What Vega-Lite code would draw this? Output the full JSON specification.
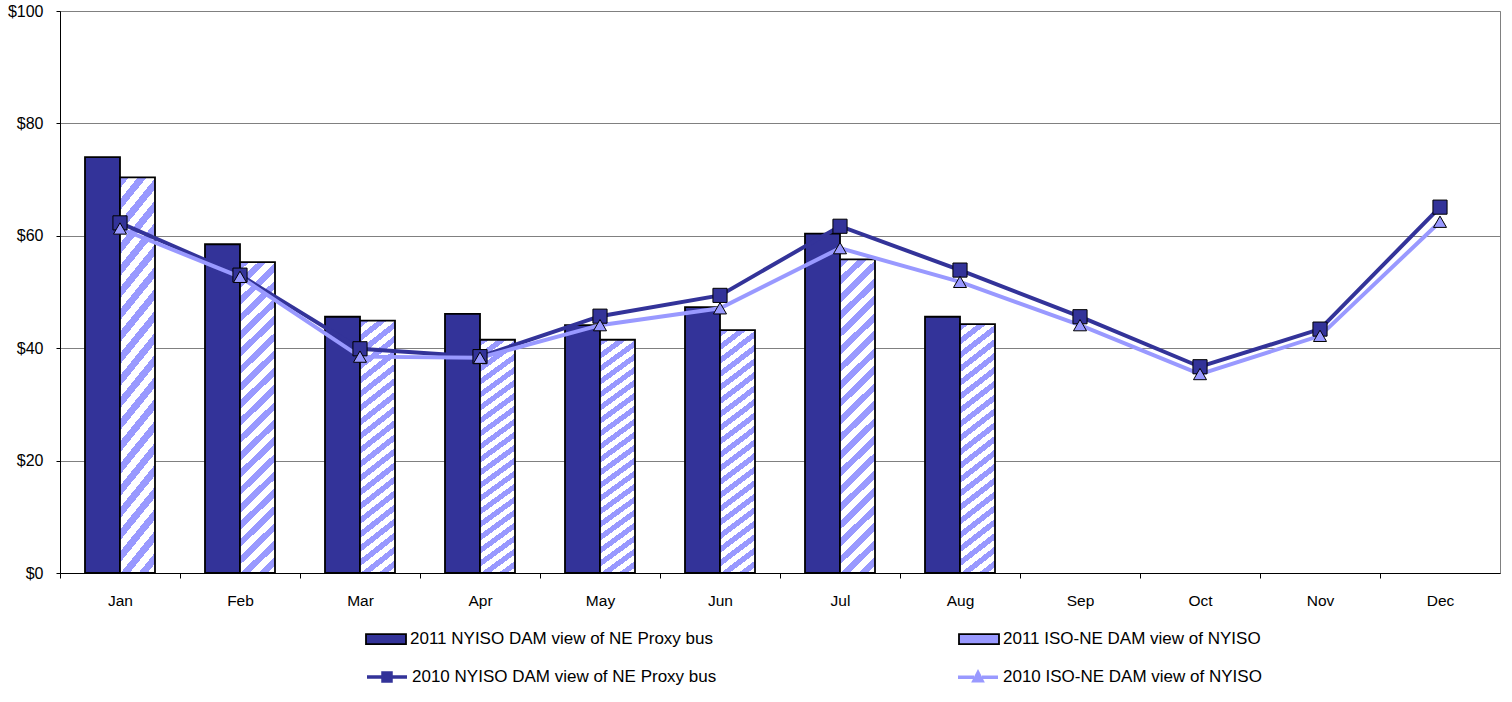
{
  "$schema": "https://vega.github.io/schema/vega-lite/v6.json",
  "width": 1440,
  "height": 562,
  "autosize": {"type": "none"},
  "padding": {"left": 60, "top": 11, "right": 12, "bottom": 129},
  "background": "white",
  "config": {
    "font": "Liberation Sans",
    "view": {"stroke": "#808080", "strokeWidth": 1}
  },
  "datasets": {
    "bars": [
      {"month": "Jan", "series": "2011 NYISO DAM view of NE Proxy bus", "value": 74.0},
      {"month": "Jan", "series": "2011 ISO-NE DAM view of NYISO", "value": 70.4},
      {"month": "Feb", "series": "2011 NYISO DAM view of NE Proxy bus", "value": 58.5},
      {"month": "Feb", "series": "2011 ISO-NE DAM view of NYISO", "value": 55.3},
      {"month": "Mar", "series": "2011 NYISO DAM view of NE Proxy bus", "value": 45.6},
      {"month": "Mar", "series": "2011 ISO-NE DAM view of NYISO", "value": 44.9},
      {"month": "Apr", "series": "2011 NYISO DAM view of NE Proxy bus", "value": 46.1},
      {"month": "Apr", "series": "2011 ISO-NE DAM view of NYISO", "value": 41.5},
      {"month": "May", "series": "2011 NYISO DAM view of NE Proxy bus", "value": 44.1},
      {"month": "May", "series": "2011 ISO-NE DAM view of NYISO", "value": 41.5},
      {"month": "Jun", "series": "2011 NYISO DAM view of NE Proxy bus", "value": 47.3},
      {"month": "Jun", "series": "2011 ISO-NE DAM view of NYISO", "value": 43.2},
      {"month": "Jul", "series": "2011 NYISO DAM view of NE Proxy bus", "value": 60.4},
      {"month": "Jul", "series": "2011 ISO-NE DAM view of NYISO", "value": 55.8},
      {"month": "Aug", "series": "2011 NYISO DAM view of NE Proxy bus", "value": 45.6},
      {"month": "Aug", "series": "2011 ISO-NE DAM view of NYISO", "value": 44.3}
    ],
    "lines": [
      {"month": "Jan", "series": "2010 NYISO DAM view of NE Proxy bus", "value": 62.3},
      {"month": "Feb", "series": "2010 NYISO DAM view of NE Proxy bus", "value": 53.0},
      {"month": "Mar", "series": "2010 NYISO DAM view of NE Proxy bus", "value": 39.9},
      {"month": "Apr", "series": "2010 NYISO DAM view of NE Proxy bus", "value": 38.5},
      {"month": "May", "series": "2010 NYISO DAM view of NE Proxy bus", "value": 45.7},
      {"month": "Jun", "series": "2010 NYISO DAM view of NE Proxy bus", "value": 49.4},
      {"month": "Jul", "series": "2010 NYISO DAM view of NE Proxy bus", "value": 61.7},
      {"month": "Aug", "series": "2010 NYISO DAM view of NE Proxy bus", "value": 53.9},
      {"month": "Sep", "series": "2010 NYISO DAM view of NE Proxy bus", "value": 45.6},
      {"month": "Oct", "series": "2010 NYISO DAM view of NE Proxy bus", "value": 36.7},
      {"month": "Nov", "series": "2010 NYISO DAM view of NE Proxy bus", "value": 43.4},
      {"month": "Dec", "series": "2010 NYISO DAM view of NE Proxy bus", "value": 65.1},
      {"month": "Jan", "series": "2010 ISO-NE DAM view of NYISO", "value": 61.3},
      {"month": "Feb", "series": "2010 ISO-NE DAM view of NYISO", "value": 52.7},
      {"month": "Mar", "series": "2010 ISO-NE DAM view of NYISO", "value": 38.5},
      {"month": "Apr", "series": "2010 ISO-NE DAM view of NYISO", "value": 38.3},
      {"month": "May", "series": "2010 ISO-NE DAM view of NYISO", "value": 44.1},
      {"month": "Jun", "series": "2010 ISO-NE DAM view of NYISO", "value": 47.1},
      {"month": "Jul", "series": "2010 ISO-NE DAM view of NYISO", "value": 57.8},
      {"month": "Aug", "series": "2010 ISO-NE DAM view of NYISO", "value": 51.8},
      {"month": "Sep", "series": "2010 ISO-NE DAM view of NYISO", "value": 44.1},
      {"month": "Oct", "series": "2010 ISO-NE DAM view of NYISO", "value": 35.4},
      {"month": "Nov", "series": "2010 ISO-NE DAM view of NYISO", "value": 42.2},
      {"month": "Dec", "series": "2010 ISO-NE DAM view of NYISO", "value": 62.5}
    ]
  },
  "layer": [
    {
      "data": {"name": "bars"},
      "mark": {"type": "bar", "stroke": "black", "strokeWidth": 1.8},
      "encoding": {
        "x": {
          "field": "month", "type": "ordinal",
          "scale": {"domain": ["Jan","Feb","Mar","Apr","May","Jun","Jul","Aug","Sep","Oct","Nov","Dec"], "paddingInner": 0.4167, "paddingOuter": 0.2083},
          "axis": {"title": null, "labelAngle": 0, "bandPosition": 0.5, "tickOffset": -60, "labelOffset": 60, "domainColor": "black", "tickColor": "black", "tickSize": 5, "labelFontSize": 15.5, "labelColor": "black", "labelPadding": 15, "grid": false}
        },
        "xOffset": {"field": "series", "type": "nominal", "scale": {"domain": ["2011 NYISO DAM view of NE Proxy bus", "2011 ISO-NE DAM view of NYISO"], "paddingInner": 0, "paddingOuter": 0}},
        "y": {
          "field": "value", "type": "quantitative",
          "scale": {"domain": [0, 100], "nice": false},
          "axis": {"title": null, "values": [0,20,40,60,80,100], "labelExpr": "'$' + datum.value", "grid": true, "gridColor": "#808080", "gridWidth": 1, "domainColor": "black", "tickColor": "black", "tickSize": 4, "labelFontSize": 16, "labelColor": "black", "labelPadding": 13}
        },
        "fill": {
          "condition": {
            "test": "datum.series === '2011 ISO-NE DAM view of NYISO'",
            "value": {"gradient": "linear", "x1": 0, "y1": 0, "x2": 0.12, "y2": 1.1, "stops": [
              {"offset": 0, "color": "#9999ff"}, {"offset": 0.025, "color": "#9999ff"},
              {"offset": 0.025, "color": "#ffffff"}, {"offset": 0.05, "color": "#ffffff"},
              {"offset": 0.05, "color": "#9999ff"}, {"offset": 0.075, "color": "#9999ff"},
              {"offset": 0.075, "color": "#ffffff"}, {"offset": 0.1, "color": "#ffffff"},
              {"offset": 0.1, "color": "#9999ff"}, {"offset": 0.125, "color": "#9999ff"},
              {"offset": 0.125, "color": "#ffffff"}, {"offset": 0.15, "color": "#ffffff"},
              {"offset": 0.15, "color": "#9999ff"}, {"offset": 0.175, "color": "#9999ff"},
              {"offset": 0.175, "color": "#ffffff"}, {"offset": 0.2, "color": "#ffffff"},
              {"offset": 0.2, "color": "#9999ff"}, {"offset": 0.225, "color": "#9999ff"},
              {"offset": 0.225, "color": "#ffffff"}, {"offset": 0.25, "color": "#ffffff"},
              {"offset": 0.25, "color": "#9999ff"}, {"offset": 0.275, "color": "#9999ff"},
              {"offset": 0.275, "color": "#ffffff"}, {"offset": 0.3, "color": "#ffffff"},
              {"offset": 0.3, "color": "#9999ff"}, {"offset": 0.325, "color": "#9999ff"},
              {"offset": 0.325, "color": "#ffffff"}, {"offset": 0.35, "color": "#ffffff"},
              {"offset": 0.35, "color": "#9999ff"}, {"offset": 0.375, "color": "#9999ff"},
              {"offset": 0.375, "color": "#ffffff"}, {"offset": 0.4, "color": "#ffffff"},
              {"offset": 0.4, "color": "#9999ff"}, {"offset": 0.425, "color": "#9999ff"},
              {"offset": 0.425, "color": "#ffffff"}, {"offset": 0.45, "color": "#ffffff"},
              {"offset": 0.45, "color": "#9999ff"}, {"offset": 0.475, "color": "#9999ff"},
              {"offset": 0.475, "color": "#ffffff"}, {"offset": 0.5, "color": "#ffffff"},
              {"offset": 0.5, "color": "#9999ff"}, {"offset": 0.525, "color": "#9999ff"},
              {"offset": 0.525, "color": "#ffffff"}, {"offset": 0.55, "color": "#ffffff"},
              {"offset": 0.55, "color": "#9999ff"}, {"offset": 0.575, "color": "#9999ff"},
              {"offset": 0.575, "color": "#ffffff"}, {"offset": 0.6, "color": "#ffffff"},
              {"offset": 0.6, "color": "#9999ff"}, {"offset": 0.625, "color": "#9999ff"},
              {"offset": 0.625, "color": "#ffffff"}, {"offset": 0.65, "color": "#ffffff"},
              {"offset": 0.65, "color": "#9999ff"}, {"offset": 0.675, "color": "#9999ff"},
              {"offset": 0.675, "color": "#ffffff"}, {"offset": 0.7, "color": "#ffffff"},
              {"offset": 0.7, "color": "#9999ff"}, {"offset": 0.725, "color": "#9999ff"},
              {"offset": 0.725, "color": "#ffffff"}, {"offset": 0.75, "color": "#ffffff"},
              {"offset": 0.75, "color": "#9999ff"}, {"offset": 0.775, "color": "#9999ff"},
              {"offset": 0.775, "color": "#ffffff"}, {"offset": 0.8, "color": "#ffffff"},
              {"offset": 0.8, "color": "#9999ff"}, {"offset": 0.825, "color": "#9999ff"},
              {"offset": 0.825, "color": "#ffffff"}, {"offset": 0.85, "color": "#ffffff"},
              {"offset": 0.85, "color": "#9999ff"}, {"offset": 0.875, "color": "#9999ff"},
              {"offset": 0.875, "color": "#ffffff"}, {"offset": 0.9, "color": "#ffffff"},
              {"offset": 0.9, "color": "#9999ff"}, {"offset": 0.925, "color": "#9999ff"},
              {"offset": 0.925, "color": "#ffffff"}, {"offset": 0.95, "color": "#ffffff"},
              {"offset": 0.95, "color": "#9999ff"}, {"offset": 0.975, "color": "#9999ff"},
              {"offset": 0.975, "color": "#ffffff"}, {"offset": 1, "color": "#ffffff"}
            ]}
          },
          "field": "series", "type": "nominal",
          "scale": {"domain": ["2011 NYISO DAM view of NE Proxy bus", "2011 ISO-NE DAM view of NYISO"], "range": ["#333399", "#9999ff"]},
          "legend": {
            "orient": "none", "legendX": 305, "legendY": 607, "direction": "horizontal", "columns": 2, "columnPadding": 242,
            "title": null, "padding": 0, "labelFontSize": 17, "labelColor": "black", "labelOffset": 3, "labelLimit": 500,
            "symbolSize": 1600, "symbolType": "M-1,-0.25H1V0.25H-1Z", "symbolStrokeColor": "black", "symbolStrokeWidth": 1.5,
            "encode": {"symbols": {"update": {
              "stroke": {"value": "black"},
              "strokeWidth": {"value": 1.8},
              "fill": [
                {"test": "datum.value === '2011 ISO-NE DAM view of NYISO'", "value": {"gradient": "linear", "x1": 0, "y1": 0, "x2": 1.19, "y2": 0.36, "stops": [
                  {"offset": 0, "color": "#9999ff"}, {"offset": 0.1, "color": "#9999ff"},
                  {"offset": 0.1, "color": "#ffffff"}, {"offset": 0.2, "color": "#ffffff"},
                  {"offset": 0.2, "color": "#9999ff"}, {"offset": 0.3, "color": "#9999ff"},
                  {"offset": 0.3, "color": "#ffffff"}, {"offset": 0.4, "color": "#ffffff"},
                  {"offset": 0.4, "color": "#9999ff"}, {"offset": 0.5, "color": "#9999ff"},
                  {"offset": 0.5, "color": "#ffffff"}, {"offset": 0.6, "color": "#ffffff"},
                  {"offset": 0.6, "color": "#9999ff"}, {"offset": 0.7, "color": "#9999ff"},
                  {"offset": 0.7, "color": "#ffffff"}, {"offset": 0.8, "color": "#ffffff"},
                  {"offset": 0.8, "color": "#9999ff"}, {"offset": 0.9, "color": "#9999ff"},
                  {"offset": 0.9, "color": "#ffffff"}, {"offset": 1, "color": "#ffffff"}
                ]}},
                {"value": "#333399"}
              ]
            }}}
          }
        }
      }
    },
    {
      "data": {"name": "lines"},
      "mark": {"type": "line", "strokeWidth": 4},
      "encoding": {
        "x": {"field": "month", "type": "ordinal"},
        "y": {"field": "value", "type": "quantitative"},
        "stroke": {
          "field": "series", "type": "nominal",
          "scale": {"domain": ["2010 NYISO DAM view of NE Proxy bus", "2010 ISO-NE DAM view of NYISO"], "range": ["#333399", "#9999ff"]},
          "legend": {
            "orient": "none", "legendX": 305, "legendY": 644, "direction": "horizontal", "columns": 2, "columnPadding": 234,
            "title": null, "padding": 0, "labelFontSize": 17, "labelColor": "black", "labelOffset": 3, "labelLimit": 500,
            "symbolSize": 1600, "symbolStrokeWidth": 3.5,
            "encode": {"symbols": {"update": {
              "shape": {"signal": "datum.value === '2010 NYISO DAM view of NE Proxy bus' ? 'M-1,0H-0.2M0.2,0H1M-0.2,-0.2H0.2V0.2H-0.2Z' : 'M-1,0H-0.2M0.2,0H1M0,-0.22L0.2,0.18H-0.2Z'"},
              "fill": {"signal": "datum.value === '2010 NYISO DAM view of NE Proxy bus' ? '#333399' : '#9999ff'"}
            }}}
          }
        },
        "detail": {"field": "series"}
      }
    },
    {
      "data": {"name": "lines"},
      "transform": [{"filter": "datum.series === '2010 NYISO DAM view of NE Proxy bus'"}],
      "mark": {"type": "point", "shape": "square", "filled": true, "fill": "#333399", "stroke": "black", "strokeWidth": 1, "size": 200, "opacity": 1},
      "encoding": {
        "x": {"field": "month", "type": "ordinal"},
        "y": {"field": "value", "type": "quantitative"}
      }
    },
    {
      "data": {"name": "lines"},
      "transform": [{"filter": "datum.series === '2010 ISO-NE DAM view of NYISO'"}],
      "mark": {"type": "point", "shape": "triangle-up", "filled": true, "fill": "#9999ff", "stroke": "black", "strokeWidth": 1, "size": 170, "opacity": 1},
      "encoding": {
        "x": {"field": "month", "type": "ordinal"},
        "y": {"field": "value", "type": "quantitative"}
      }
    }
  ]
}
